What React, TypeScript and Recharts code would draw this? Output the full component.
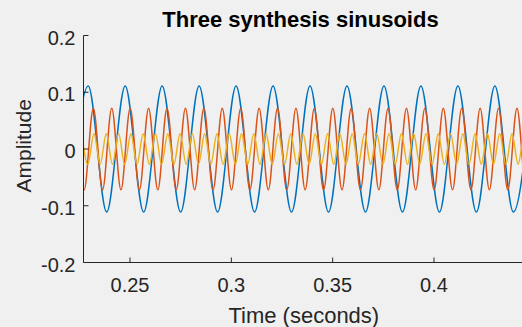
import React from 'react';
import { LineChart, Line, XAxis, YAxis } from 'recharts';

// tick values / labels
const xTicks = [0.25, 0.3, 0.35, 0.4];
const xTickLabels = ['0.25', '0.3', '0.35', '0.4'];
const yTicks = [-0.2, -0.1, 0, 0.1, 0.2];
const yTickLabels = ['-0.2', '-0.1', '0', '0.1', '0.2'];

// peaks / troughs of each sinusoid (time in s, amplitude)
const blueT = [
  0.22025, 0.22938, 0.2385, 0.24762, 0.25674, 0.26586, 0.27498, 0.2841, 0.29322, 0.30234,
  0.31146, 0.32058, 0.3297, 0.33883, 0.34795, 0.35707, 0.36619, 0.37531, 0.38443, 0.39355,
  0.40267, 0.41179, 0.42091, 0.43003, 0.43916, 0.44828,
];
const blueV = [
  -0.111, 0.111, -0.111, 0.111, -0.111, 0.111, -0.111, 0.111, -0.111, 0.111,
  -0.111, 0.111, -0.111, 0.111, -0.111, 0.111, -0.111, 0.111, -0.111, 0.111,
  -0.111, 0.111, -0.111, 0.111, -0.111, 0.111,
];

const orangeT = [
  0.22282, 0.22736, 0.23191, 0.23645, 0.24099, 0.24554, 0.25008, 0.25463, 0.25917, 0.26372,
  0.26826, 0.27281, 0.27735, 0.28189, 0.28644, 0.29098, 0.29553, 0.30007, 0.30462, 0.30916,
  0.31371, 0.31825, 0.32279, 0.32734, 0.33188, 0.33643, 0.34097, 0.34552, 0.35006, 0.3546,
  0.35915, 0.36369, 0.36824, 0.37278, 0.37733, 0.38187, 0.38642, 0.39096, 0.3955, 0.40005,
  0.40459, 0.40914, 0.41368, 0.41823, 0.42277, 0.42732, 0.43186, 0.4364, 0.44095, 0.44549,
  0.45004,
];
const orangeV = [
  0.072, -0.072, 0.072, -0.072, 0.072, -0.072, 0.072, -0.072, 0.072, -0.072,
  0.072, -0.072, 0.072, -0.072, 0.072, -0.072, 0.072, -0.072, 0.072, -0.072,
  0.072, -0.072, 0.072, -0.072, 0.072, -0.072, 0.072, -0.072, 0.072, -0.072,
  0.072, -0.072, 0.072, -0.072, 0.072, -0.072, 0.072, -0.072, 0.072, -0.072,
  0.072, -0.072, 0.072, -0.072, 0.072, -0.072, 0.072, -0.072, 0.072, -0.072,
  0.072,
];

const yellowT = [
  0.22617, 0.2292, 0.23224, 0.23527, 0.2383, 0.24134, 0.24437, 0.2474, 0.25044, 0.25347,
  0.2565, 0.25953, 0.26257, 0.2656, 0.26863, 0.27167, 0.2747, 0.27773, 0.28077, 0.2838,
  0.28683, 0.28987, 0.2929, 0.29593, 0.29897, 0.302, 0.30503, 0.30806, 0.3111, 0.31413,
  0.31716, 0.3202, 0.32323, 0.32626, 0.3293, 0.33233, 0.33536, 0.3384, 0.34143, 0.34446,
  0.34749, 0.35053, 0.35356, 0.35659, 0.35963, 0.36266, 0.36569, 0.36873, 0.37176, 0.37479,
  0.37783, 0.38086, 0.38389, 0.38693, 0.38996, 0.39299, 0.39602, 0.39906, 0.40209, 0.40512,
  0.40816, 0.41119, 0.41422, 0.41726, 0.42029, 0.42332, 0.42636, 0.42939, 0.43242, 0.43545,
  0.43849, 0.44152, 0.44455, 0.44759,
];
const yellowV = [
  0.027, -0.027, 0.027, -0.027, 0.027, -0.027, 0.027, -0.027, 0.027, -0.027,
  0.027, -0.027, 0.027, -0.027, 0.027, -0.027, 0.027, -0.027, 0.027, -0.027,
  0.027, -0.027, 0.027, -0.027, 0.027, -0.027, 0.027, -0.027, 0.027, -0.027,
  0.027, -0.027, 0.027, -0.027, 0.027, -0.027, 0.027, -0.027, 0.027, -0.027,
  0.027, -0.027, 0.027, -0.027, 0.027, -0.027, 0.027, -0.027, 0.027, -0.027,
  0.027, -0.027, 0.027, -0.027, 0.027, -0.027, 0.027, -0.027, 0.027, -0.027,
  0.027, -0.027, 0.027, -0.027, 0.027, -0.027, 0.027, -0.027, 0.027, -0.027,
  0.027, -0.027, 0.027, -0.027,
];

const toSeries = (ts: number[], vs: number[]) => ts.map((t, i) => ({ t, v: vs[i] }));
const blue = toSeries(blueT, blueV);
const orange = toSeries(orangeT, orangeV);
const yellow = toSeries(yellowT, yellowV);

const AX = '#262626';
const BG = '#f0f0f0';
const FONT = '"Liberation Sans", Arial, Helvetica, sans-serif';
const TICK_LEN = 5;

const BottomTick = (props: any) => {
  const { x, y, payload } = props;
  return (
    <g>
      <line x1={x} y1={y} x2={x} y2={y - TICK_LEN} stroke={AX} />
      <text x={x} y={y + 29.5} textAnchor="middle" fill={AX} fontSize={20} fontFamily={FONT}>
        {xTickLabels[payload.index]}
      </text>
    </g>
  );
};

const TopTick = (props: any) => {
  const { x, y } = props;
  return <line x1={x} y1={y} x2={x} y2={y + TICK_LEN} stroke={AX} />;
};

const LeftTick = (props: any) => {
  const { x, y, payload } = props;
  return (
    <g>
      <line x1={x} y1={y} x2={x + TICK_LEN} y2={y} stroke={AX} />
      <text x={x - 8} y={y + 9} textAnchor="end" fill={AX} fontSize={20} fontFamily={FONT}>
        {yTickLabels[payload.index]}
      </text>
    </g>
  );
};

const RightTick = (props: any) => {
  const { x, y } = props;
  return <line x1={x} y1={y} x2={x - TICK_LEN} y2={y} stroke={AX} />;
};

const xDomain = [0.227056, 0.445642];
const yDomain = [-0.2, 0.2];

export default function App() {
  return (
    <div
      style={{
        position: 'fixed',
        left: 0,
        top: 0,
        width: 522,
        height: 327,
        overflow: 'hidden',
        background: BG,
      }}
    >
      <LineChart width={530} height={327} margin={{ top: 35.5, right: 3.5, bottom: 0, left: 0 }}>
        <XAxis
          type="number"
          dataKey="t"
          domain={xDomain}
          allowDataOverflow
          ticks={xTicks}
          interval={0}
          height={64.5}
          tickSize={0}
          tickMargin={0}
          tickLine={false}
          axisLine={{ stroke: AX }}
          tick={<BottomTick />}
        />
        <XAxis
          xAxisId="top"
          orientation="top"
          type="number"
          dataKey="t"
          domain={xDomain}
          allowDataOverflow
          ticks={xTicks}
          interval={0}
          height={0}
          tickSize={0}
          tickMargin={0}
          tickLine={false}
          axisLine={{ stroke: AX }}
          tick={<TopTick />}
        />
        <YAxis
          type="number"
          domain={yDomain}
          allowDataOverflow
          ticks={yTicks}
          interval={0}
          width={83.5}
          tickSize={0}
          tickMargin={0}
          tickLine={false}
          axisLine={{ stroke: AX }}
          tick={<LeftTick />}
        />
        <YAxis
          yAxisId="right"
          orientation="right"
          type="number"
          domain={yDomain}
          allowDataOverflow
          ticks={yTicks}
          interval={0}
          width={0}
          tickSize={0}
          tickMargin={0}
          tickLine={false}
          axisLine={{ stroke: AX }}
          tick={<RightTick />}
        />
        <Line data={blue} dataKey="v" type="monotone" stroke="#0072BD" strokeWidth={1.5}
          dot={false} activeDot={false} isAnimationActive={false} />
        <Line data={orange} dataKey="v" type="monotone" stroke="#D95319" strokeWidth={1.5}
          dot={false} activeDot={false} isAnimationActive={false} />
        <Line data={yellow} dataKey="v" type="monotone" stroke="#EDB120" strokeWidth={1.5}
          dot={false} activeDot={false} isAnimationActive={false} />
      </LineChart>
      <svg
        width={522}
        height={327}
        style={{ position: 'absolute', left: 0, top: 0, pointerEvents: 'none' }}
      >
        <text x={300.5} y={26.7} textAnchor="middle" fill="#000" fontSize={22}
          fontWeight="bold" fontFamily={FONT}>
          Three synthesis sinusoids
        </text>
        <text x={303.8} y={322.5} textAnchor="middle" fill={AX} fontSize={22} fontFamily={FONT}>
          Time (seconds)
        </text>
        <text x={31.5} y={145.8} textAnchor="middle" fill={AX} fontSize={21} fontFamily={FONT}
          transform="rotate(-90 31.5 145.8)">
          Amplitude
        </text>
      </svg>
    </div>
  );
}
